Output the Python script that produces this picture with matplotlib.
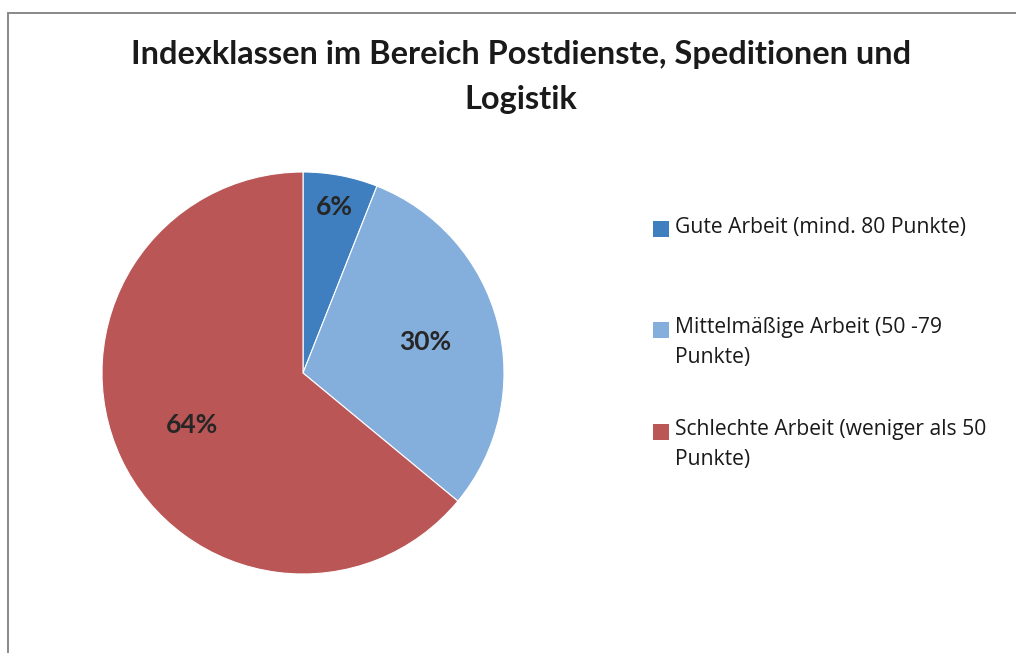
import matplotlib
matplotlib.use("Agg")
import matplotlib.pyplot as plt
from matplotlib.patches import Rectangle
import numpy as np

categories = ["Gute Arbeit (mind. 80 Punkte)",
              "Mittelmäßige Arbeit (50 -79\nPunkte)",
              "Schlechte Arbeit (weniger als 50\nPunkte)"]
values = [6, 30, 64]
colors = ["#3f7fbf", "#84aedb", "#bb5656"]
title = "Indexklassen im Bereich Postdienste, Speditionen und\nLogistik"

W, H = 1016, 653
fig = plt.figure(figsize=(W / 100, H / 100), dpi=100)
FONT = ["Lato", "DejaVu Sans"]
LFONT = ["Open Sans", "DejaVu Sans"]

# outer frame (cut at right/bottom like the reference)
fig.patches.append(Rectangle((8 / W, -0.05), 1.1, 1 - 13 / H + 0.05,
                             transform=fig.transFigure, fill=False,
                             edgecolor="#898989", linewidth=1.4))

cx, cy, r = 303, 373, 201
ax = fig.add_axes([(cx - r) / W, (H - cy - r) / H, 2 * r / W, 2 * r / H])
wedges, texts, autotexts = ax.pie(values, colors=colors, startangle=90,
                                  counterclock=False, autopct="%1.0f%%",
                                  wedgeprops=dict(edgecolor="white", linewidth=0.8),
                                  textprops=dict(fontsize=19, fontweight="bold",
                                                 color="#262626", family=FONT))
ax.set_xlim(-1, 1)
ax.set_ylim(-1, 1)

# Excel "best fit" label distances
label_dist = [0.84, 0.63, 0.61]
for w, t, d in zip(wedges, autotexts, label_dist):
    ang = np.deg2rad((w.theta1 + w.theta2) / 2)
    t.set_position((d * np.cos(ang), d * np.sin(ang)))
    t.set_ha("center")
    t.set_va("center")

fig.text(521 / W, 1 - 40 / H, title, ha="center", va="top", fontsize=23.4,
         fontweight="bold", color="#1a1a1a", family=FONT, linespacing=1.68)

# legend
sq_x, sq = 653, 16
text_x = 675
rows_y = [229, 330, 432]
for c, lab, yy in zip(colors, categories, rows_y):
    fig.patches.append(Rectangle((sq_x / W, 1 - (yy + sq / 2) / H), sq / W, sq / H,
                                 transform=fig.transFigure, facecolor=c,
                                 edgecolor="none"))
    fig.text(text_x / W, 1 - (yy - 12.5) / H, lab, ha="left", va="top",
             fontsize=15.2, color="#1a1a1a", family=LFONT, linespacing=1.5)

fig.savefig("out.png", dpi=100)
